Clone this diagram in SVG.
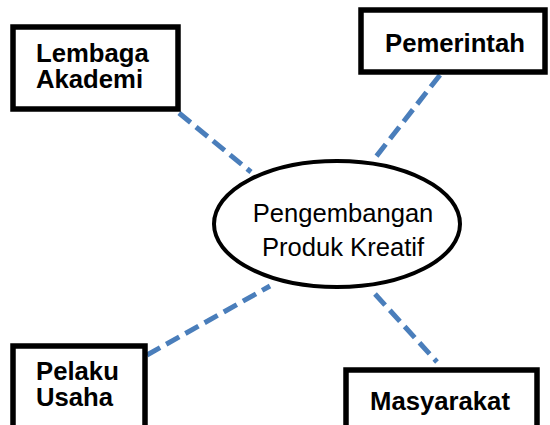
<svg xmlns="http://www.w3.org/2000/svg" width="550" height="425" viewBox="0 0 550 425">
<style>
.box{fill:#fff;stroke:#000;stroke-width:5.5}
.lbl{font-family:"Liberation Sans",Arial,sans-serif;font-weight:bold;font-size:25.7px;fill:#000}
.ctr{font-family:"Liberation Sans",Arial,sans-serif;font-size:25.6px;fill:#000}
.con{stroke:#4A7EBB;stroke-width:5;stroke-dasharray:15 7;fill:none}
</style>
<rect width="550" height="425" fill="#fff"/>
<g id="connectors">
<line class="con" x1="179" y1="113" x2="251" y2="172"/>
<line class="con" x1="440" y1="75" x2="375" y2="158"/>
<line class="con" x1="147" y1="355" x2="270" y2="286"/>
<line class="con" x1="375" y1="294" x2="437" y2="362"/>
</g>
<g id="lembaga-akademi">
<rect class="box" x="13" y="27" width="165" height="82"/>
<text class="lbl" x="36" y="62">Lembaga</text>
<text class="lbl" x="36" y="88">Akademi</text>
</g>
<g id="pemerintah">
<rect class="box" x="361" y="10" width="184" height="62"/>
<text class="lbl" x="385" y="52">Pemerintah</text>
</g>
<g id="pelaku-usaha">
<rect class="box" x="13" y="346" width="132" height="90"/>
<text class="lbl" x="36" y="380">Pelaku</text>
<text class="lbl" x="36" y="406">Usaha</text>
</g>
<g id="masyarakat">
<rect class="box" x="346" y="370" width="191" height="70"/>
<text class="lbl" x="370" y="410">Masyarakat</text>
</g>
<g id="pengembangan">
<ellipse cx="337" cy="224" rx="123" ry="63" fill="#fff" stroke="#000" stroke-width="4"/>
<text class="ctr" x="343" y="222" text-anchor="middle">Pengembangan</text>
<text class="ctr" x="343" y="256" text-anchor="middle">Produk Kreatif</text>
</g>
</svg>
